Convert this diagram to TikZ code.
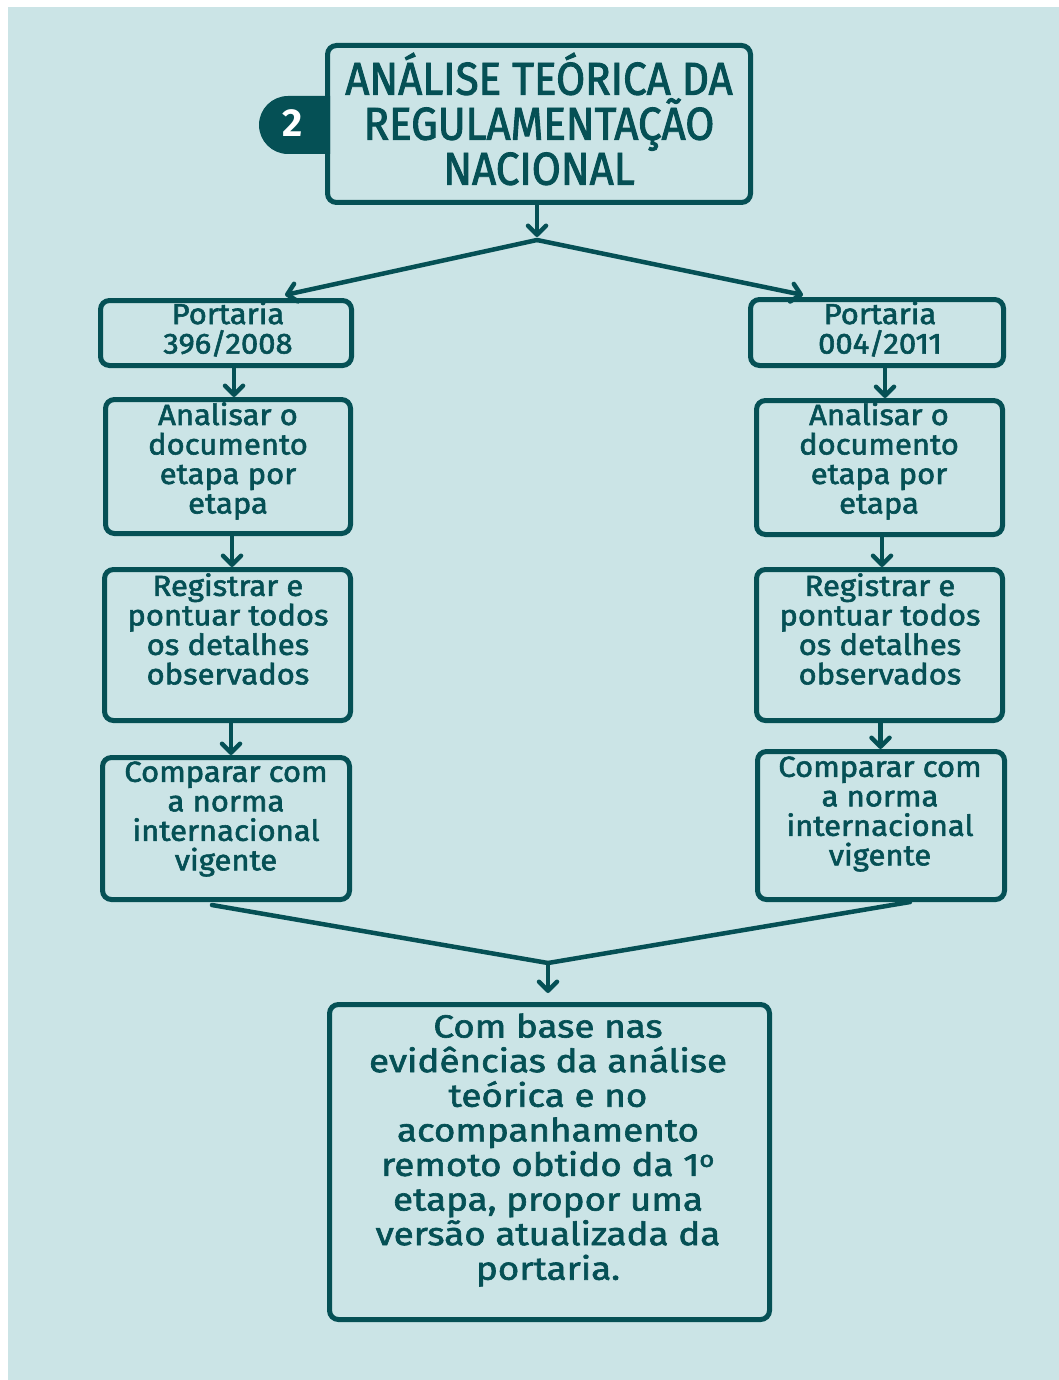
\documentclass[tikz,border=0pt]{standalone}
\usepackage{fontspec}
\setmainfont{Fira Sans}[FakeBold=2,FakeStretch=1.07]
\newfontfamily\capsfont{Fira Sans}[FakeStretch=0.915,FakeBold=2]
\newfontfamily\widefont{Fira Sans}[FakeStretch=1.15,FakeBold=2]
\newfontfamily\numfont{Fira Sans}
\usetikzlibrary{arrows.meta,calc}
\definecolor{bgteal}{RGB}{203,228,230}
\definecolor{deepteal}{RGB}{5,80,85}
\tikzset{
  box/.style={draw=deepteal, line width=5pt, rounded corners=9pt, inner sep=0pt},
  txt/.style={text=deepteal, align=center, inner sep=0pt},
  small/.style={font=\fontsize{29}{29.5}\selectfont},
  big/.style={font=\widefont\fontsize{32}{34.6}\selectfont},
  conn/.style={draw=deepteal, line width=4.5pt, line cap=round, line join=round},
  arr/.style={conn, -{Straight Barb[length=9pt,width=18pt,line width=4.5pt,round]}},
}
\begin{document}
\begin{tikzpicture}[x=1pt,y=-1pt]
\useasboundingbox (0,0) rectangle (1059,1380);
\fill[white] (0,0) rectangle (1059,1380);
\fill[bgteal] (8,7) rectangle (1059,1380);

% step badge
\fill[deepteal] (330,96) -- (288,96) arc[start angle=90,end angle=270,radius=29pt] -- (330,154) -- cycle;
\node[text=white, inner sep=0pt, font=\numfont\bfseries\fontsize{39}{39}\selectfont] (num) at (293,123) {2};

% title
\node[box, minimum width=423pt, minimum height=157pt] (title) at (539,124) {};
\node[txt, font=\capsfont\fontsize{46}{45}\selectfont] (titlet) at (539,119) {ANÁLISE TEÓRICA DA\\REGULAMENTAÇÃO\\NACIONAL};

% left column
\node[box, minimum width=251pt, minimum height=65pt] (p1) at (226,333) {};
\node[txt, small] (p1t) at (228,329) {Portaria\\396/2008};
\node[box, minimum width=245pt, minimum height=134pt] (a1) at (228,466.5) {};
\node[txt, small] (a1t) at (228,461) {Analisar o\\documento\\etapa por\\etapa};
\node[box, minimum width=246pt, minimum height=151pt] (r1) at (227.5,645) {};
\node[txt, small] (r1t) at (228,629) {Registrar e\\pontuar todos\\os detalhes\\observados};
\node[box, minimum width=247pt, minimum height=142pt] (c1) at (226,828.5) {};
\node[txt, small] (c1t) at (226,819) {Comparar com\\a norma\\internacional\\vigente};

% right column
\node[box, minimum width=253pt, minimum height=66pt] (p2) at (877,332.5) {};
\node[txt, small] (p2t) at (880,329) {Portaria\\004/2011};
\node[box, minimum width=246pt, minimum height=134pt] (a2) at (879.5,467.5) {};
\node[txt, small] (a2t) at (879,461) {Analisar o\\documento\\etapa por\\etapa};
\node[box, minimum width=246pt, minimum height=151pt] (r2) at (879.5,645) {};
\node[txt, small] (r2t) at (880,629) {Registrar e\\pontuar todos\\os detalhes\\observados};
\node[box, minimum width=247pt, minimum height=148pt] (c2) at (881,825.5) {};
\node[txt, small] (c2t) at (880,814) {Comparar com\\a norma\\internacional\\vigente};

% final box
\node[box, minimum width=440pt, minimum height=315pt] (fin) at (549.5,1162) {};
\node[txt, big] (fint) at (548,1150) {Com base nas\\evidências da análise\\teórica e no\\acompanhamento\\remoto obtido da 1\textsuperscript{o}\\etapa, propor uma\\versão atualizada da\\portaria.};

% split and merge points
\coordinate (split) at (537,240);
\coordinate (merge) at (548,963);

\draw[arr, shorten >=3pt] (title.south -| split) -- (split);
\draw[arr] (split) -- ([xshift=59pt,yshift=3pt]p1.north);
\draw[arr] (split) -- ([xshift=-74pt,yshift=2pt]p2.north);

\draw[arr] ([xshift=8pt]p1.south) -- ([xshift=8pt]p1.south |- a1.north);
\draw[arr] ([xshift=4pt]a1.south) -- ([xshift=4pt]a1.south |- r1.north);
\draw[arr] ([xshift=3.5pt]r1.south) -- ([xshift=3.5pt]r1.south |- c1.north);
\draw[arr] ([xshift=8pt]p2.south) -- ([xshift=8pt]p2.south |- a2.north);
\draw[arr] ([xshift=2.5pt]a2.south) -- ([xshift=2.5pt]a2.south |- r2.north);
\draw[arr] ([xshift=1pt]r2.south) -- ([xshift=1pt]r2.south |- c2.north);

\draw[conn] ([xshift=-14pt,yshift=-3pt]c1.south) -- (merge) -- ([xshift=29pt]c2.south);
\draw[arr, shorten >=9pt] (merge) -- (merge |- fin.north);
\end{tikzpicture}
\end{document}
